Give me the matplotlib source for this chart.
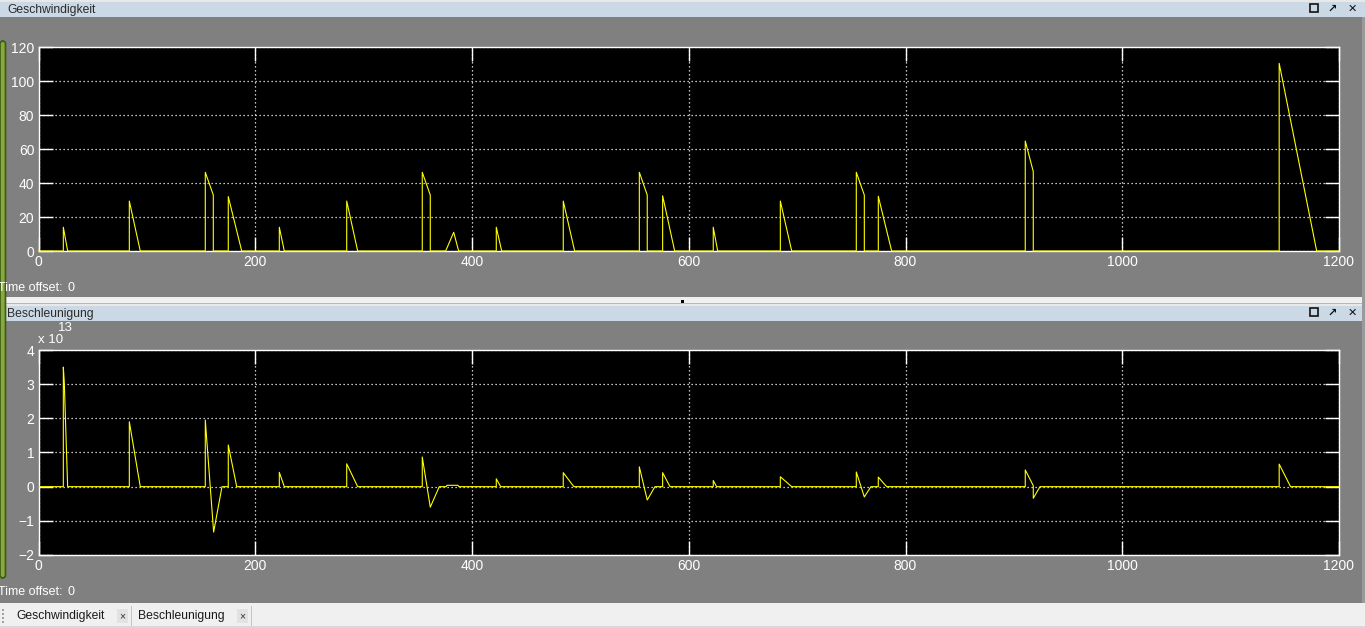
import matplotlib
matplotlib.use("Agg")
import matplotlib.pyplot as plt
from matplotlib.patches import Rectangle, FancyBboxPatch
import warnings
warnings.filterwarnings("ignore")

# ---------------- data ----------------
panel_titles = ["Geschwindigkeit", "Beschleunigung"]
x_ticks = [0, 200, 400, 600, 800, 1000, 1200]
speed_ticks = [0, 20, 40, 60, 80, 100, 120]
accel_ticks = [-2, -1, 0, 1, 2, 3, 4]
accel_exponent = 13

# Geschwindigkeit (time, value) breakpoints
speed_t = [0, 22.9, 22.9, 26.9,
           83.8, 83.8, 93.9,
           153.9, 153.9, 161.3, 161.3,
           175.1, 175.1, 187.5,
           222.2, 222.2, 226.8,
           284.4, 284.4, 294.5,
           354.1, 354.1, 361.5, 361.5,
           375.7, 383.1, 387.7,
           422.4, 422.4, 427.4,
           484.2, 484.2, 494.7,
           554.4, 554.4, 561.7, 561.7,
           575.9, 575.9, 587.0,
           622.6, 622.6, 626.7,
           684.5, 684.5, 695.0,
           754.6, 754.6, 762.0, 762.0,
           774.9, 774.9, 787.2,
           910.5, 910.5, 917.9, 917.9,
           1144.8, 1144.8, 1179.4, 1200]
speed_v = [0, 0, 14, 0,
           0, 29.4, 0,
           0, 46.3, 32.9, 0,
           0, 32.0, 0,
           0, 14, 0,
           0, 29.4, 0,
           0, 46.3, 32.9, 0,
           0, 11, 0,
           0, 14, 0,
           0, 29.4, 0,
           0, 46.3, 32.9, 0,
           0, 32.5, 0,
           0, 14, 0,
           0, 29.4, 0,
           0, 46.3, 32.9, 0,
           0, 32.2, 0,
           0, 64.7, 46.7, 0,
           0, 110.4, 0, 0]

# Beschleunigung (time, value in units of 1e13)
accel_t = [0, 22.9, 22.9, 23.8, 24.7, 25.6, 26.9,
           83.8, 83.8, 93.9,
           153.9, 153.9, 161.6, 169.3,
           175.1, 175.1, 182.9,
           222.2, 222.2, 226.8,
           284.4, 284.4, 294.5,
           354.1, 354.1, 361.5, 369.8,
           376.0, 377.0, 387.0, 388.0,
           422.4, 422.4, 426.5,
           484.2, 484.2, 494.0,
           554.4, 554.4, 561.7, 568.8,
           575.9, 575.9, 582.7,
           622.6, 622.6, 625.7,
           684.5, 684.5, 695.0,
           754.6, 754.6, 762.0, 768.1,
           774.9, 774.9, 782.6,
           910.5, 910.5, 917.9, 917.9, 924.1,
           1144.8, 1144.8, 1155.3, 1200]
accel_v = [0, 0, 3.5, 3.05, 2.15, 1.25, 0,
           0, 1.9, 0,
           0, 1.95, -1.33, 0,
           0, 1.22, 0,
           0, 0.42, 0,
           0, 0.67, 0,
           0, 0.87, -0.6, 0,
           0, 0.04, 0.04, 0,
           0, 0.23, 0,
           0, 0.41, 0,
           0, 0.58, -0.39, 0,
           0, 0.41, 0,
           0, 0.18, 0,
           0, 0.29, 0,
           0, 0.43, -0.3, 0,
           0, 0.28, 0,
           0, 0.49, 0.03, -0.34, 0,
           0, 0.66, 0, 0]

# ---------------- figure ----------------
W, H = 1365, 628
fig = plt.figure(figsize=(W / 100, H / 100), dpi=100)
fig.patch.set_facecolor("#808080")

FONT = ["Liberation Sans Narrow", "Liberation Sans", "DejaVu Sans"]
UIFONT = ["Liberation Sans", "DejaVu Sans"]

bg = fig.add_axes([0, 0, 1, 1], zorder=-1)
bg.set_xlim(0, W)
bg.set_ylim(H, 0)
bg.axis("off")

def rect(x, y, w, h, fc, ec="none", lw=0):
    bg.add_patch(Rectangle((x, y), w, h, facecolor=fc, edgecolor=ec, linewidth=lw))

# gray body
rect(0, 0, W, H, "#808080")
# title bars
for ty, title in [(0, panel_titles[0]), (304, panel_titles[1])]:
    rect(0, ty, W, 17, "#cbd8e5")
    rect(0, ty, W, 1.5, "#e8e8e8")
    bg.text(7, ty + 9.5, title, fontsize=8.7, family=UIFONT, color="#2b2b2b",
            va="center", ha="left")
    # window icons
    bg.add_patch(Rectangle((1309.5, ty + 4), 8, 8, facecolor="none",
                           edgecolor="#111111", linewidth=1.2))
    bg.text(1332, ty + 8.5, "\u2197", fontsize=8, family=["DejaVu Sans"],
            color="#111111", ha="center", va="center", fontweight="bold")
    bg.text(1352, ty + 8.5, "\u2715", fontsize=8, family=["DejaVu Sans"],
            color="#111111", ha="center", va="center", fontweight="bold")
# separator between panels
rect(0, 297, W, 7, "#f0f0f0")
rect(0, 303, W, 1, "#b8b8b8")
rect(680.5, 300, 3, 3, "#000000")
# right edge
rect(1362, 17, 3, 587, "#9a9a9a")
# bottom tab bar
rect(0, 603, W, 25, "#f0f0f0")
rect(0, 626, W, 2, "#d8d8d8")
bg.text(16, 616, panel_titles[0], fontsize=8.7, family=UIFONT, color="#1a1a1a",
        va="center", ha="left")
bg.text(138, 616, panel_titles[1], fontsize=8.7, family=UIFONT, color="#1a1a1a",
        va="center", ha="left")
for cx in (122.5, 242.5):
    rect(cx - 5.5, 609, 11, 14, "#e2e2e2")
    bg.text(cx, 616, "\u00d7", fontsize=7.5, family=UIFONT, color="#333333",
            ha="center", va="center")
for sx in (131, 251):
    rect(sx, 606, 1, 20, "#c4c4c4")
for gy in (609, 613, 617, 621):
    rect(2, gy, 1.5, 1.5, "#a0a0a0")
# green side strip
bg.add_patch(FancyBboxPatch((0, 41), 5.5, 537,
                            boxstyle="round,pad=0,rounding_size=3",
                            facecolor="#86aa3e", edgecolor="#3f5a12", linewidth=1.2))
# time offset labels
for ty in (288, 592):
    bg.text(-1.5, ty, "Time offset:", fontsize=9, family=FONT, color="white",
            va="center", ha="left")
    bg.text(68, ty, "0", fontsize=9, family=FONT, color="white",
            va="center", ha="left")
# exponent label
bg.text(38, 340, "x 10", fontsize=9.5, family=FONT, color="white", va="center", ha="left")
bg.text(58, 328, str(accel_exponent), fontsize=9.5, family=FONT, color="white",
        va="center", ha="left")

def px_axes(x0, y0, x1, y1):
    return fig.add_axes([x0 / W, 1 - y1 / H, (x1 - x0) / W, (y1 - y0) / H])

def style(ax, yticks):
    ax.set_facecolor("black")
    for s in ax.spines.values():
        s.set_color("white")
        s.set_linewidth(1.0)
    ax.set_xlim(x_ticks[0], x_ticks[-1])
    ax.set_ylim(yticks[0], yticks[-1])
    ax.set_xticks(x_ticks)
    ax.set_yticks(yticks)
    ax.tick_params(direction="in", length=10, width=1.0, color="white",
                   labelcolor="white", top=True, right=True, labelsize=10, pad=3)
    for lab in ax.get_xticklabels() + ax.get_yticklabels():
        lab.set_family(FONT)
    ax.grid(True, color="white", linestyle=(0, (1, 2.2)), linewidth=0.9)
    ax.set_axisbelow(True)

ax1 = px_axes(38.5, 47, 1339, 251)
style(ax1, speed_ticks)
ax1.plot(speed_t, speed_v, color="#ffff00", linewidth=0.8, zorder=3, clip_on=False)

ax2 = px_axes(38.5, 350, 1339, 555)
style(ax2, accel_ticks)
ax2.plot(accel_t, accel_v, color="#ffff00", linewidth=0.8, zorder=3)

fig.savefig("out.png", dpi=100, facecolor=fig.get_facecolor())
